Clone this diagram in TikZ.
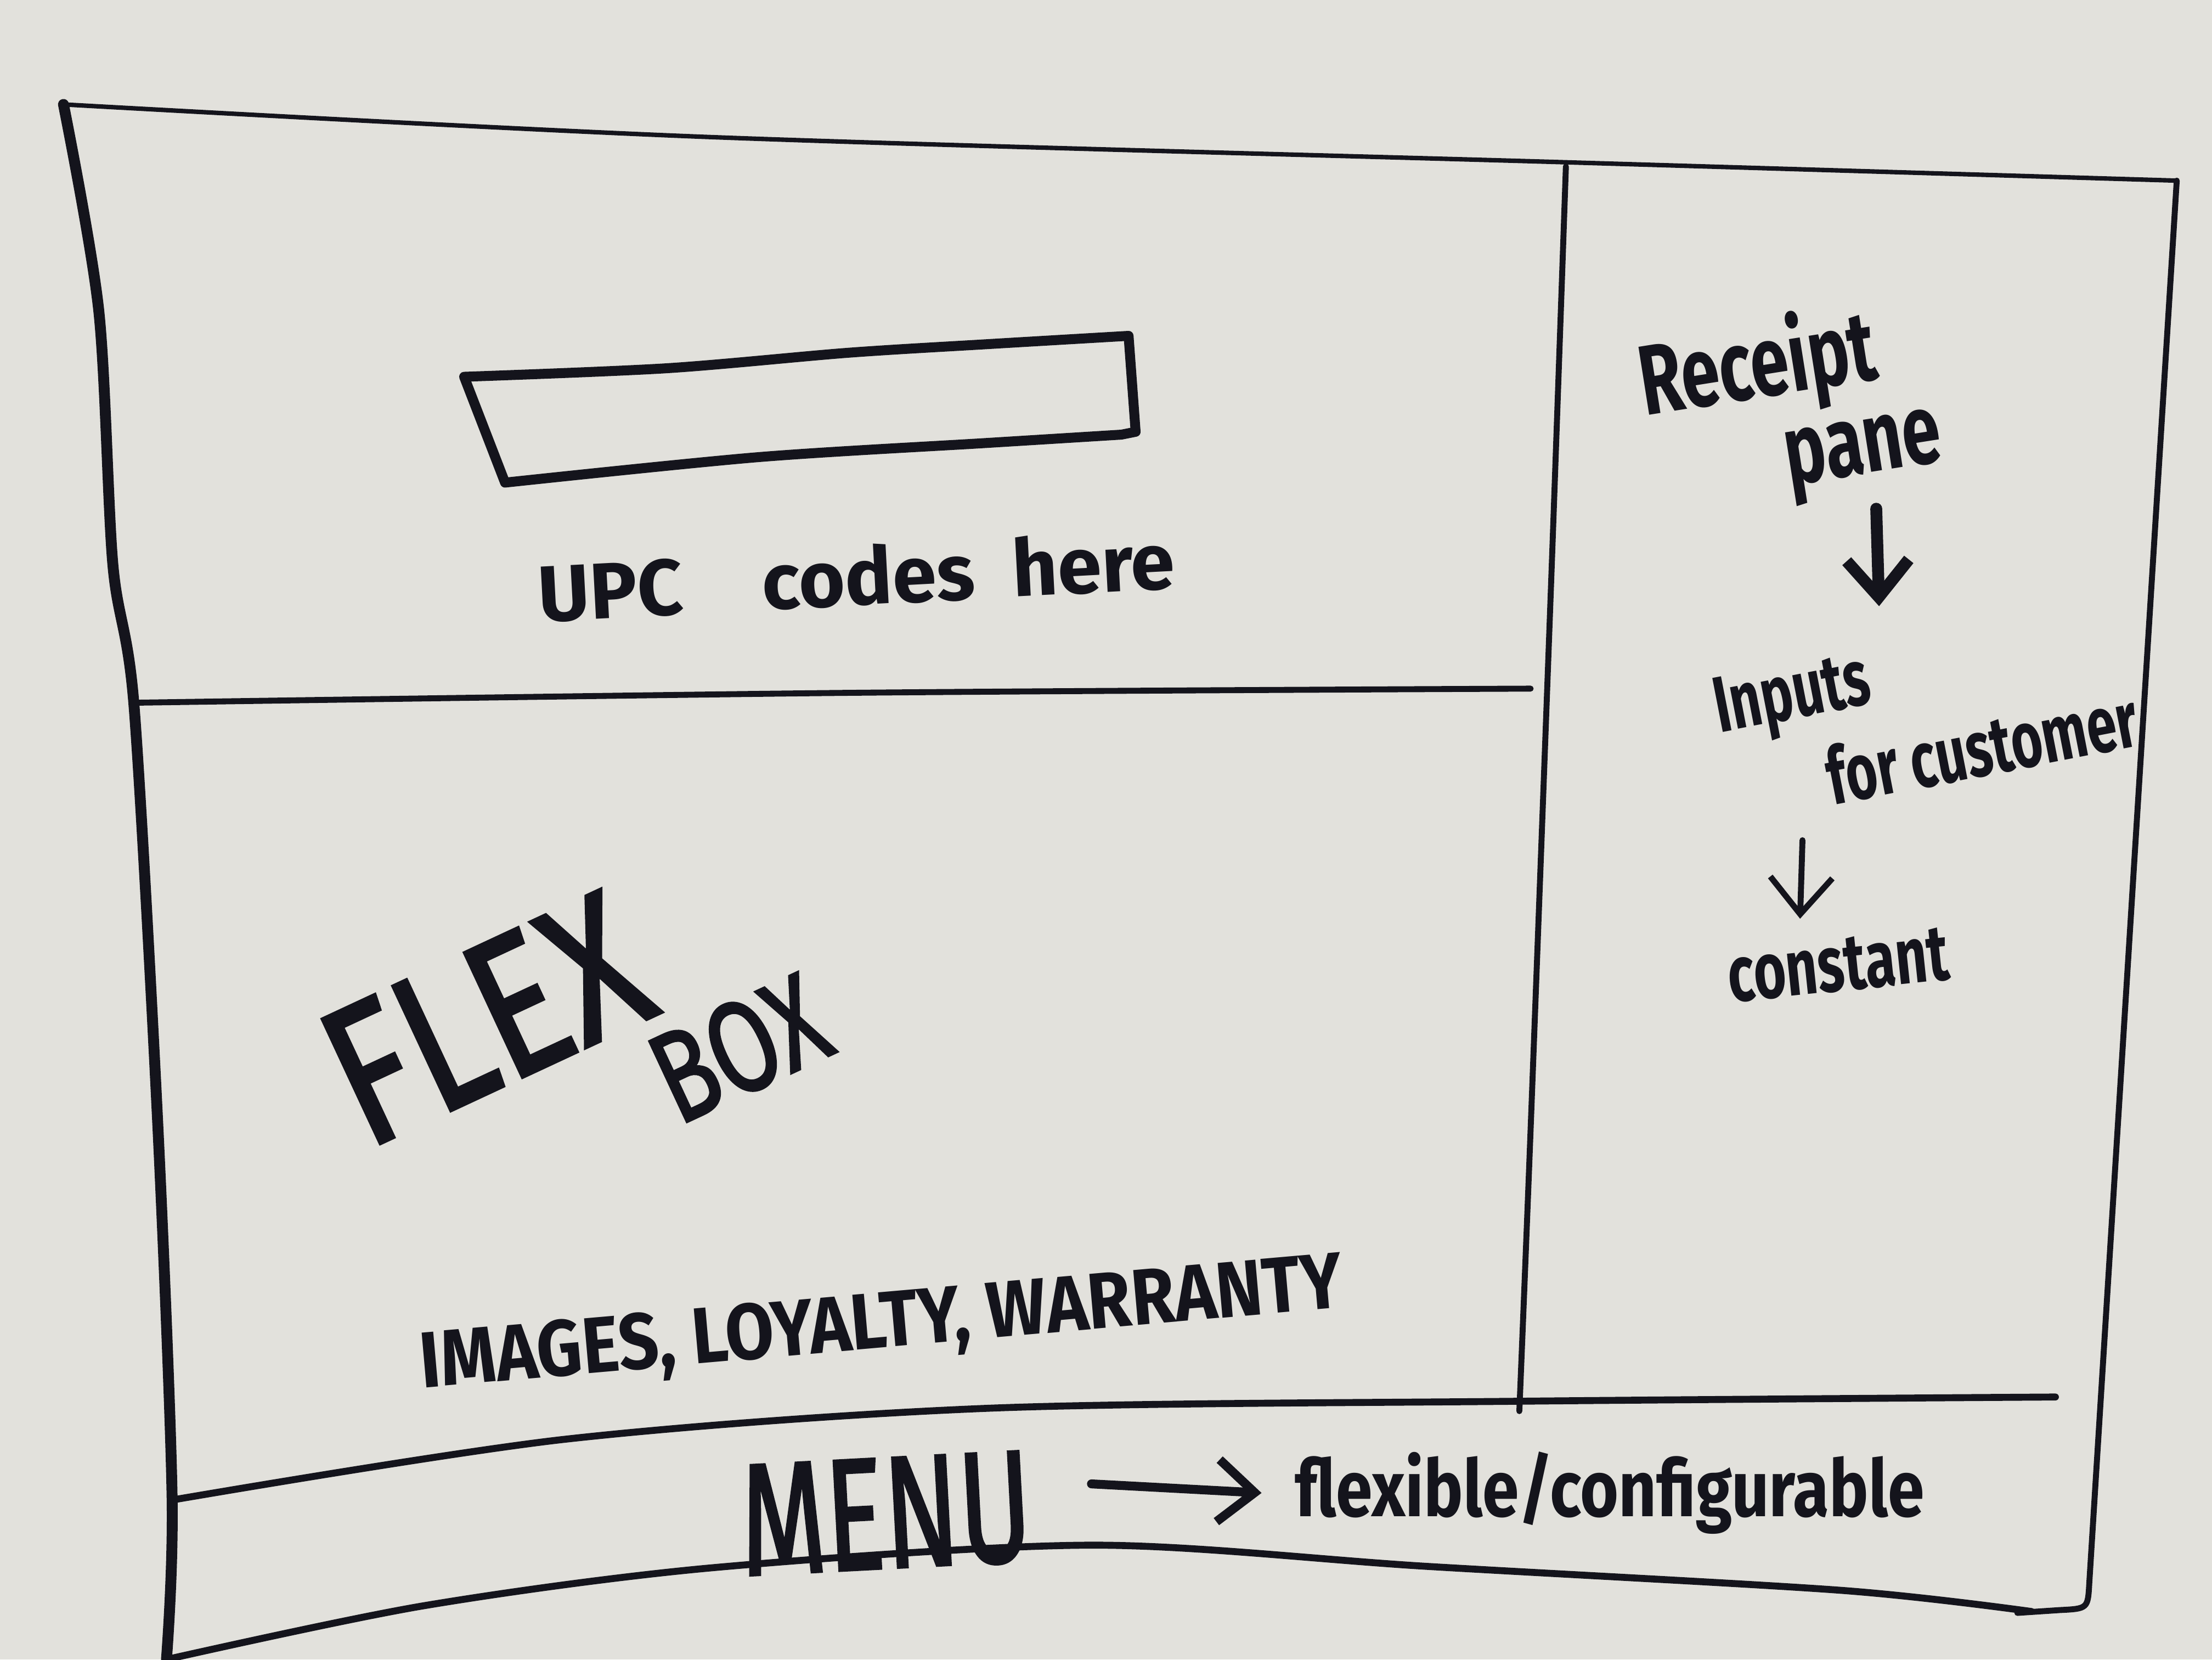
\documentclass[tikz,border=0pt]{standalone}
\usepackage{fontspec}
\setmainfont{Fira Sans}
\newfontfamily\markerfont[FakeBold=2]{Fira Sans}
\usepackage{graphicx}
\usetikzlibrary{arrows.meta}

\definecolor{paper}{RGB}{226,225,220}
\definecolor{ink}{RGB}{20,20,28}

\begin{document}
\begin{tikzpicture}[x=0.1mm,y=-0.1mm,>={Straight Barb[length=2.6mm,width=4.4mm]},
  pen/.style={ink,line width=1.2pt,line cap=round,line join=round},
  scrawl/.style={text=ink,font=\bfseries\fontsize{16}{19}\selectfont,inner sep=0pt},
  bigscrawl/.style={text=ink,inner sep=0pt}]
  \fill[paper] (0,0) rectangle (1568,1176);
  \useasboundingbox (0,0) rectangle (1568,1176);

  % screen frame
  \draw[pen,line width=2.2pt] plot[smooth] coordinates {(45,74) (70,220) (80,400) (95,500) (112,800) (122,1062) (118,1176)};
  \draw[pen,line width=0.9pt] plot[smooth] coordinates {(45,74) (500,97) (1110,115) (1543,128)};
  \draw[pen] (1543,128) -- (1481,1122) .. controls (1480,1140) .. (1460,1141) -- (1430,1143);
  \draw[pen,line width=1.4pt] plot[smooth] coordinates {(118,1176) (300,1138) (505,1111) (774,1095) (1011,1110) (1305,1127) (1440,1142)};

  % panes
  \draw[pen] plot[smooth] coordinates {(95,498) (600,491) (1085,488)};
  \draw[pen] plot[smooth] coordinates {(1110,118) (1100,400) (1085,800) (1077,1000)};
  \draw[pen,line width=1.4pt] plot[smooth] coordinates {(122,1063) (400,1020) (700,998) (1077,993) (1457,990)};

  % scan field
  \draw[pen,line width=2pt] plot[smooth] coordinates {(329,267) (472,261) (601,250) (698,244) (800,238)}
    -- (805,306) -- plot[smooth] coordinates {(795,308) (698,314) (537,324) (358,342)} -- cycle;

  \node[scrawl,rotate=3] (upc) at (607,408) {UPC\quad codes\ \ here};
  \node[bigscrawl,rotate=25] (flex) at (344,722) {\markerfont\fontsize{40}{40}\selectfont\scalebox{0.8}[1]{FLEX}};
  \node[bigscrawl,rotate=25] (box) at (524,743) {\markerfont\fontsize{26}{26}\selectfont\scalebox{0.75}[1]{BOX}};
  \node[scrawl,rotate=5] (perks) at (625,940) {\scalebox{0.89}[1]{IMAGES, LOYALTY, WARRANTY}};
  \node[bigscrawl,rotate=3] (menu) at (628,1073) {\markerfont\fontsize{32}{32}\selectfont\scalebox{0.69}[1]{MENU}};
  \node[scrawl] (cfg) at (1141,1058) {\scalebox{0.83}[1]{flexible/configurable}};
  \draw[pen,line width=1.8pt,->] ([xshift=4.2mm,yshift=1.6mm]menu.east) -- ([xshift=-2.3mm]cfg.west);

  % receipt column
  \node[scrawl,font=\bfseries\fontsize{20}{21}\selectfont] (rp) at (1269,290)
    {\rotatebox{9}{\scalebox{0.7}[1]{\shortstack[l]{Receipt\\\hspace*{1.9em}pane}}}};
  \node[scrawl] (inp) at (1365,505)
    {\rotatebox{11}{\scalebox{0.68}[1]{\shortstack[l]{Inputs\\\hspace*{1.8em}for customer}}}};
  \node[scrawl] (cst) at (1303,684) {\rotatebox{6}{\scalebox{0.7}[1]{constant}}};
  \draw[pen,line width=2.4pt,->] ([xshift=6.1mm,yshift=1.4mm]rp.south) -- ([xshift=-3.3mm,yshift=-0.5mm]inp.north);
  \draw[pen,->,shorten <=1mm] ([xshift=-8.7mm]inp.south) -- ([xshift=-2.7mm,yshift=0.5mm]cst.north);
\end{tikzpicture}
\end{document}
